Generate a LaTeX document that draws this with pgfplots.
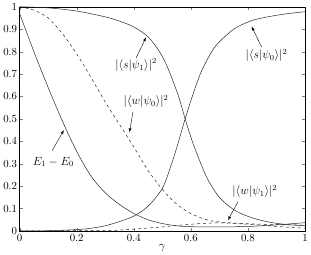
\documentclass[border=0pt]{standalone}
\usepackage{pgfplots}
\pgfplotsset{compat=1.18}
\begin{document}
\begin{tikzpicture}
\begin{axis}[
  scale only axis, width=289pt, height=227pt,
  xmin=0, xmax=1, ymin=0, ymax=1,
  xtick={0,0.2,0.4,0.6,0.8,1},
  ytick={0,0.1,0.2,0.3,0.4,0.5,0.6,0.7,0.8,0.9,1},
  tick align=inside, tick pos=both,
  major tick length=3pt,
  ticklabel style={font=\fontsize{10.5}{12}\selectfont},
  xlabel={$\gamma$},
  xlabel style={yshift=4pt, font=\large},
  yticklabel style={xshift=1pt},
  every axis plot/.append style={line width=0.5pt, black!85},
  axis line style={line width=0.5pt},
  clip=true,
]
% E1 - E0
\addplot[smooth] coordinates {(0,0.97) (0.05,0.80) (0.1,0.64) (0.15,0.49) (0.2,0.355) (0.25,0.245) (0.3,0.17) (0.35,0.118) (0.4,0.078) (0.45,0.05) (0.5,0.033) (0.55,0.023) (0.6,0.019) (0.7,0.018) (0.8,0.02) (0.9,0.027) (1,0.037)};
% |<s|psi0>|^2
\addplot[smooth] coordinates {(0,0) (0.1,0.001) (0.2,0.006) (0.25,0.012) (0.3,0.023) (0.35,0.042) (0.4,0.066) (0.45,0.11) (0.5,0.19) (0.53,0.29) (0.555,0.39) (0.58,0.5) (0.605,0.6) (0.633,0.7) (0.66,0.77) (0.69,0.83) (0.75,0.9) (0.806,0.935) (0.85,0.95) (0.9,0.962) (0.95,0.971) (1,0.978)};
% |<s|psi1>|^2
\addplot[smooth] coordinates {(0,1) (0.1,0.995) (0.2,0.981) (0.3,0.955) (0.35,0.936) (0.4,0.91) (0.45,0.866) (0.49,0.8) (0.52,0.725) (0.557,0.6) (0.58,0.5) (0.605,0.4) (0.635,0.3) (0.66,0.228) (0.7,0.15) (0.75,0.095) (0.8,0.065) (0.85,0.046) (0.9,0.034) (0.95,0.027) (1,0.023)};
% |<w|psi0>|^2
\addplot[smooth, dashed] coordinates {(0,1) (0.05,0.985) (0.1,0.95) (0.15,0.88) (0.2,0.79) (0.25,0.685) (0.3,0.575) (0.35,0.475) (0.4,0.375) (0.45,0.27) (0.5,0.185) (0.55,0.12) (0.6,0.078) (0.65,0.052) (0.7,0.04) (0.8,0.032) (0.9,0.028) (1,0.026)};
% |<w|psi1>|^2
\addplot[smooth, dashed] coordinates {(0,0) (0.3,0.002) (0.35,0.004) (0.4,0.008) (0.45,0.013) (0.5,0.018) (0.55,0.024) (0.6,0.03) (0.65,0.034) (0.7,0.036) (0.8,0.03) (0.9,0.02) (1,0.012)};

\tikzset{lab/.style={font=\fontsize{11.5}{13}\selectfont}}
\draw[-latex, line width=0.4pt] (axis cs:0.408,0.771) -- (axis cs:0.443,0.864);
\node[lab] at (axis cs:0.408,0.74) {$|\langle s|\psi_1\rangle|^2$};
\draw[-latex, line width=0.4pt] (axis cs:0.848,0.82) -- (axis cs:0.813,0.912);
\node[lab] at (axis cs:0.865,0.784) {$|\langle s|\psi_0\rangle|^2$};
\draw[-latex, line width=0.4pt] (axis cs:0.397,0.53) -- (axis cs:0.385,0.44);
\node[lab] at (axis cs:0.443,0.577) {$|\langle w|\psi_0\rangle|^2$};
\draw[-latex, line width=0.4pt] (axis cs:0.114,0.358) -- (axis cs:0.155,0.45);
\node[font=\large] at (axis cs:0.118,0.308) {$E_1-E_0$};
\draw[-latex, line width=0.4pt] (axis cs:0.765,0.13) -- (axis cs:0.73,0.048);
\node[lab] at (axis cs:0.824,0.176) {$|\langle w|\psi_1\rangle|^2$};
\end{axis}
\end{tikzpicture}
\end{document}
